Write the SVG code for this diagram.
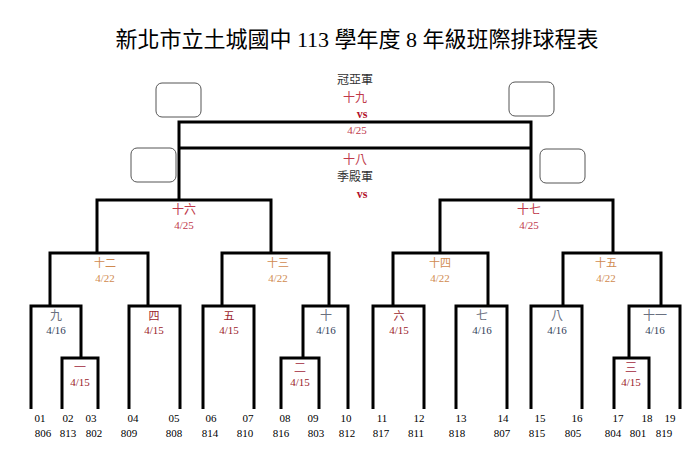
<svg xmlns="http://www.w3.org/2000/svg" width="700" height="471" viewBox="0 0 700 471">
<style>
text{font-family:"Liberation Serif","Noto Sans CJK TC",serif;text-anchor:middle}
.ln{fill:none;stroke:#000;stroke-width:3}
.bx{fill:#fff;stroke:#555;stroke-width:1}
.t{font-size:22px;fill:#000}
.s{font-size:11px;fill:#000}
.g{font-size:12px;fill:#333}
.r{font-size:12px;fill:#c0394a}
.rb{font-size:12px;fill:#b3122a;font-weight:bold}
.o{font-size:11px;fill:#d08a50}
.dr{font-size:11px;fill:#9b1c2a}
.gb{font-size:12px;fill:#6a7080}
.sl{font-size:11px;fill:#333f5a}
.pk{font-size:12px;fill:#b05060}
</style>
<rect width="700" height="471" fill="#fff"/>
<text class="t" x="357" y="47">新北市立土城國中 113 學年度  8 年級班際排球程表</text>
<g id="connectors">
<path class="ln" d="M179 200V122H531V200M179 148H531"/>
<path class="ln" d="M97 253V200H271V253M440 253V200H613V253"/>
<path class="ln" d="M50 306V253H148V306M222 306V253H329V306M393 306V253H488V306M563 306V253H661V306"/>
<path class="ln" d="M31 409V306H81V358M129 409V306H180V409M203 409V306H254V409M303 358V306H348V409"/>
<path class="ln" d="M373 409V306H424V409M456 409V306H507V409M531 409V306H582V409M629 358V306H680V409"/>
<path class="ln" d="M62 409V358H98V409M281 409V358H319V409M614 409V358H649V409"/>
</g>
<g id="boxes">
<rect class="bx" x="156" y="83" width="45" height="34" rx="6"/>
<rect class="bx" x="509" y="82" width="45" height="34" rx="6"/>
<rect class="bx" x="131" y="148" width="45" height="34" rx="6"/>
<rect class="bx" x="540" y="149" width="45" height="34" rx="6"/>
</g>
<g id="final">
<text class="g" x="355" y="84">冠亞軍</text>
<text class="r" x="355" y="102">十九</text>
<text class="rb" x="362" y="118">vs</text>
<text class="dr" x="357" y="134" style="fill:#c0394a">4/25</text>
<text class="r" x="355" y="164">十八</text>
<text class="g" x="355" y="181">季殿軍</text>
<text class="rb" x="362" y="198">vs</text>
</g>
<g id="semis">
<text class="r" x="184" y="214">十六</text><text class="dr" x="184" y="229" style="fill:#c0394a">4/25</text>
<text class="r" x="529" y="214">十七</text><text class="dr" x="529" y="229" style="fill:#c0394a">4/25</text>
</g>
<g id="quarters">
<text class="o" x="105" y="267">十二</text><text class="o" x="105" y="282">4/22</text>
<text class="o" x="278" y="267">十三</text><text class="o" x="278" y="282">4/22</text>
<text class="o" x="440" y="267">十四</text><text class="o" x="440" y="282">4/22</text>
<text class="o" x="606" y="267">十五</text><text class="o" x="606" y="282">4/22</text>
</g>
<g id="round2">
<text class="gb" x="56" y="320">九</text><text class="sl" x="56" y="334">4/16</text>
<text class="dr" x="154" y="320">四</text><text class="dr" x="154" y="334">4/15</text>
<text class="dr" x="229" y="320">五</text><text class="dr" x="229" y="334">4/15</text>
<text class="gb" x="326" y="320">十</text><text class="sl" x="326" y="334">4/16</text>
<text class="dr" x="399" y="320">六</text><text class="dr" x="399" y="334">4/15</text>
<text class="gb" x="482" y="320">七</text><text class="sl" x="482" y="334">4/16</text>
<text class="gb" x="557" y="320">八</text><text class="sl" x="557" y="334">4/16</text>
<text class="gb" x="655" y="320">十一</text><text class="sl" x="655" y="334">4/16</text>
</g>
<g id="round1">
<text class="pk" x="80" y="372">一</text><text class="dr" x="80" y="386">4/15</text>
<text class="pk" x="300" y="372">二</text><text class="dr" x="300" y="386">4/15</text>
<text class="pk" x="631" y="372">三</text><text class="dr" x="631" y="386">4/15</text>
</g>
<g id="seeds">
<text class="s" x="40" y="422">01</text><text class="s" x="68" y="422">02</text><text class="s" x="91" y="422">03</text><text class="s" x="133" y="422">04</text><text class="s" x="174" y="422">05</text><text class="s" x="211" y="422">06</text><text class="s" x="248" y="422">07</text><text class="s" x="285" y="422">08</text><text class="s" x="313" y="422">09</text><text class="s" x="346" y="422">10</text>
<text class="s" x="382" y="422">11</text><text class="s" x="419" y="422">12</text><text class="s" x="461" y="422">13</text><text class="s" x="503" y="422">14</text><text class="s" x="540" y="422">15</text><text class="s" x="577" y="422">16</text><text class="s" x="618" y="422">17</text><text class="s" x="647" y="422">18</text><text class="s" x="670" y="422">19</text>
</g>
<g id="teams">
<text class="s" x="43" y="437">806</text><text class="s" x="68" y="437">813</text><text class="s" x="94" y="437">802</text><text class="s" x="129" y="437">809</text><text class="s" x="174" y="437">808</text><text class="s" x="210" y="437">814</text><text class="s" x="245" y="437">810</text><text class="s" x="281" y="437">816</text><text class="s" x="316" y="437">803</text><text class="s" x="347" y="437">812</text>
<text class="s" x="381" y="437">817</text><text class="s" x="416" y="437">811</text><text class="s" x="457" y="437">818</text><text class="s" x="502" y="437">807</text><text class="s" x="537" y="437">815</text><text class="s" x="573" y="437">805</text><text class="s" x="613" y="437">804</text><text class="s" x="638" y="437">801</text><text class="s" x="664" y="437">819</text>
</g>
</svg>
